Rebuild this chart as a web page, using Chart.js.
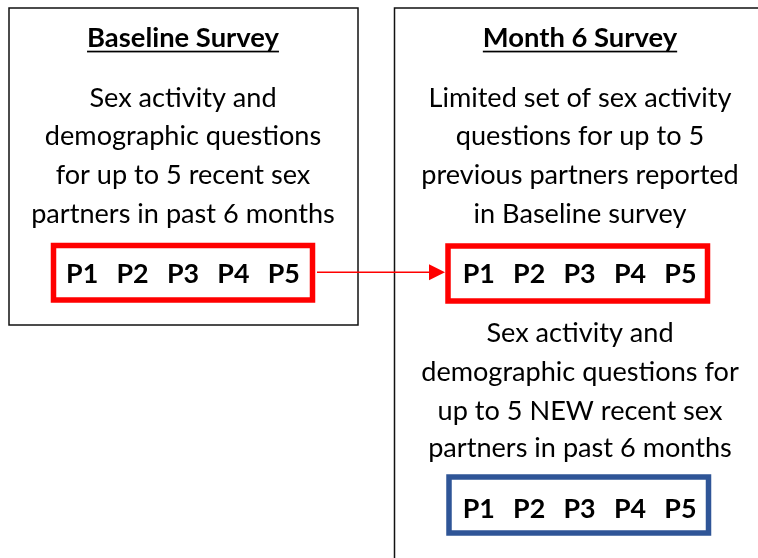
<!DOCTYPE html>
<html>
<head>
<meta charset="utf-8">
<script src="https://cdn.jsdelivr.net/npm/chart.js@4.4.1/dist/chart.umd.min.js"></script>
<style>
html,body{margin:0;padding:0;background:#fff;}
#wrap{width:758px;height:558px;}
</style>
</head>
<body>
<div id="wrap"><canvas id="c" width="758" height="558"></canvas></div>
<script>
// ---- content (data) ----
const titles = ["Baseline Survey", "Month 6 Survey"];
const baselineLines = ["Sex activity and", "demographic questions", "for up to 5 recent sex", "partners in past 6 months"];
const month6PrevLines = ["Limited set of sex activity", "questions for up to 5", "previous partners reported", "in Baseline survey"];
const month6NewLines = ["Sex activity and", "demographic questions for", "up to 5 NEW recent sex", "partners in past 6 months"];
const partnerLabels = ["P1", "P2", "P3", "P4", "P5"];

// ---- layout ----
const FONT = "Lato, 'Open Sans', sans-serif";
const layout = {
  leftBox: {x0: 9, y0: 8, x1: 358, y1: 325},
  rightBox: {x0: 394.5, y0: 8, x1: 820, y1: 620},
  leftCx: 183, rightCx: 580,
  titleBase: 46.5, underlineY: 51.5,
  bodyBase: [106.7, 145, 184.3, 222.7],
  newBase: [341.7, 381, 420, 457.3],
  boxes: [
    {x0: 53.5, y0: 245.5, x1: 312.5, y1: 300, color: "#ff0000", cx: 183, base: 282.7},
    {x0: 448, y0: 246, x1: 707.5, y1: 301, color: "#ff0000", cx: 579.6, base: 282.7},
    {x0: 449, y0: 477, x1: 708.5, y1: 533, color: "#2f5597", cx: 579.6, base: 518.3}
  ],
  pStep: 50.4,
  arrow: {x0: 317, x1: 445, y: 272.3, head: 16, half: 8}
};

function fitSize(ctx, weight, text, target) {
  ctx.font = weight + " 24px " + FONT;
  return 24 * target / ctx.measureText(text).width;
}

const diagram = {
  id: "diagram",
  afterDraw(chart) {
    const ctx = chart.ctx;
    const X = v => chart.scales.x.getPixelForValue(v);
    const Y = v => chart.scales.y.getPixelForValue(v);
    ctx.save();
    ctx.fillStyle = "#fff";
    ctx.fillRect(0, 0, chart.width, chart.height);

    // outer boxes
    ctx.strokeStyle = "#111";
    ctx.lineWidth = 1.5;
    [layout.leftBox, layout.rightBox].forEach(b => {
      ctx.strokeRect(X(b.x0), Y(b.y0), X(b.x1) - X(b.x0), Y(b.y1) - Y(b.y0));
    });

    const bodySize = fitSize(ctx, "normal", baselineLines[3], 303.7);
    const titleSize = fitSize(ctx, "bold", titles[0], 192);
    const pSize = titleSize * 0.98;

    ctx.textAlign = "center";
    ctx.textBaseline = "alphabetic";
    ctx.fillStyle = "#000";

    // titles with underline
    [[titles[0], layout.leftCx], [titles[1], layout.rightCx]].forEach(([t, cx]) => {
      ctx.font = "bold " + titleSize.toFixed(2) + "px " + FONT;
      ctx.fillText(t, X(cx), Y(layout.titleBase));
      const w = ctx.measureText(t).width;
      ctx.fillRect(X(cx) - w / 2, Y(layout.underlineY) - 0.8, w, 1.7);
    });

    // body text
    ctx.font = "normal " + bodySize.toFixed(2) + "px " + FONT;
    baselineLines.forEach((t, i) => ctx.fillText(t, X(layout.leftCx), Y(layout.bodyBase[i])));
    month6PrevLines.forEach((t, i) => ctx.fillText(t, X(layout.rightCx), Y(layout.bodyBase[i])));
    month6NewLines.forEach((t, i) => ctx.fillText(t, X(layout.rightCx), Y(layout.newBase[i])));

    // partner boxes
    layout.boxes.forEach(b => {
      ctx.strokeStyle = b.color;
      ctx.lineWidth = 5.5;
      ctx.strokeRect(X(b.x0), Y(b.y0), X(b.x1) - X(b.x0), Y(b.y1) - Y(b.y0));
      ctx.fillStyle = "#000";
      ctx.font = "bold " + pSize.toFixed(2) + "px " + FONT;
      partnerLabels.forEach((p, i) => {
        const cx = b.cx + (i - (partnerLabels.length - 1) / 2) * layout.pStep;
        ctx.fillText(p, X(cx), Y(b.base));
      });
    });

    // arrow
    const a = layout.arrow;
    ctx.strokeStyle = "#ff0000";
    ctx.fillStyle = "#ff0000";
    ctx.lineWidth = 1.5;
    ctx.beginPath();
    ctx.moveTo(X(a.x0), Y(a.y));
    ctx.lineTo(X(a.x1 - a.head + 1), Y(a.y));
    ctx.stroke();
    ctx.beginPath();
    ctx.moveTo(X(a.x1), Y(a.y));
    ctx.lineTo(X(a.x1 - a.head), Y(a.y - a.half));
    ctx.lineTo(X(a.x1 - a.head), Y(a.y + a.half));
    ctx.closePath();
    ctx.fill();
    ctx.restore();
  }
};

new Chart(document.getElementById("c"), {
  type: "scatter",
  data: { datasets: [{ data: [], pointRadius: 0 }] },
  options: {
    responsive: false,
    animation: false,
    layout: { padding: 0 },
    plugins: { legend: { display: false }, tooltip: { enabled: false } },
    scales: {
      x: { type: "linear", min: 0, max: 758, display: false },
      y: { type: "linear", min: 0, max: 558, reverse: true, display: false }
    }
  },
  plugins: [diagram]
});
</script>
</body>
</html>
